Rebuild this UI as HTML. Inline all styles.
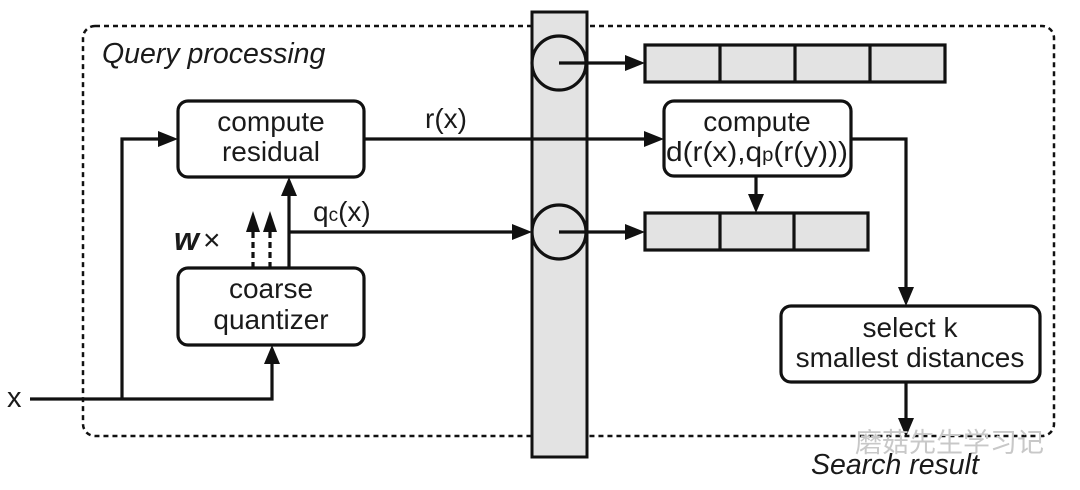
<!DOCTYPE html>
<html><head><meta charset="utf-8"><style>
html,body{margin:0;padding:0;background:#fff;}
svg{display:block;}
text{font-family:"Liberation Sans",Arial,sans-serif;fill:#1a1a1a;}
</style></head><body>
<svg width="1080" height="490" viewBox="0 0 1080 490" xmlns="http://www.w3.org/2000/svg">
<rect x="83" y="26" width="971" height="410" rx="12" fill="none" stroke="#111" stroke-width="2.5" stroke-dasharray="5,4"/>
<rect x="532" y="12" width="55" height="445" fill="#e3e3e3" stroke="#111" stroke-width="3"/>
<text x="102" y="63" font-size="28.5" font-style="italic">Query processing</text>
<g fill="none" stroke="#111" stroke-width="3.2">
<rect x="178" y="101" width="186" height="76" rx="10" fill="#fff"/>
<rect x="178" y="268" width="186" height="77" rx="10" fill="#fff"/>
<rect x="664" y="101" width="187" height="75" rx="10" fill="#fff"/>
<rect x="781" y="306" width="259" height="76" rx="10" fill="#fff"/>
<rect x="645" y="45" width="300" height="37" fill="#e3e3e3"/>
<line x1="720" y1="45" x2="720" y2="82"/><line x1="795" y1="45" x2="795" y2="82"/><line x1="870" y1="45" x2="870" y2="82"/>
<rect x="645" y="213" width="223" height="37" fill="#e3e3e3"/>
<line x1="720" y1="213" x2="720" y2="250"/><line x1="794" y1="213" x2="794" y2="250"/>
<circle cx="559" cy="63" r="27"/>
<circle cx="559" cy="232" r="27"/>
<polyline points="30,399 272,399 272,362"/>
<polyline points="122,399 122,139 160,139"/>
<line x1="289" y1="268" x2="289" y2="195"/>
<line x1="289" y1="232" x2="515" y2="232"/>
<line x1="364" y1="139" x2="646" y2="139"/>
<line x1="559" y1="63" x2="626" y2="63"/>
<line x1="559" y1="232" x2="626" y2="232"/>
<line x1="756" y1="176" x2="756" y2="196"/>
<polyline points="851,139 906,139 906,290"/>
<line x1="906" y1="382" x2="906" y2="420"/>
<line x1="253" y1="268" x2="253" y2="230" stroke-dasharray="6,4"/>
<line x1="270" y1="268" x2="270" y2="230" stroke-dasharray="6,4"/>
</g>
<g fill="#111">
<polygon points="178,139 158,131 158,147"/>
<polygon points="272,345 264,364 280,364"/>
<polygon points="289,177 281,196 297,196"/>
<polygon points="532,232 512,224 512,240"/>
<polygon points="664,139 644,131 644,147"/>
<polygon points="645,63 625,55 625,71"/>
<polygon points="645,232 625,224 625,240"/>
<polygon points="756,213 748,194 764,194"/>
<polygon points="906,306 898,287 914,287"/>
<polygon points="906,437 898,418 914,418"/>
<polygon points="253,211 246,232 260,232"/>
<polygon points="270,211 263,232 277,232"/>
</g>
<g font-size="28" text-anchor="middle">
<text x="271" y="131">compute</text>
<text x="271" y="161">residual</text>
<text x="271" y="298">coarse</text>
<text x="271" y="329">quantizer</text>
<text x="757" y="131">compute</text>
<text x="757" y="161" textLength="182" lengthAdjust="spacingAndGlyphs">d(r(x),q<tspan font-size="19">p</tspan>(r(y)))</text>
<text x="910" y="337">select k</text>
<text x="910" y="367">smallest distances</text>
</g>
<text x="425" y="128" font-size="28">r(x)</text>
<text x="313" y="221" font-size="28">q<tspan font-size="19">c</tspan>(x)</text>
<text x="7" y="407" font-size="29">x</text>
<text x="174" y="250" font-size="32" font-style="italic" font-family="Liberation Serif,serif" font-weight="bold">w</text>
<text x="203" y="250" font-size="30">×</text>
<text x="855" y="452" font-size="27" style="fill:#c8c8c8" font-family="'Liberation Sans','Noto Sans CJK SC',sans-serif">磨菇先生学习记</text>
<text x="811" y="474" font-size="28.5" font-style="italic">Search result</text>
</svg>
</body></html>
